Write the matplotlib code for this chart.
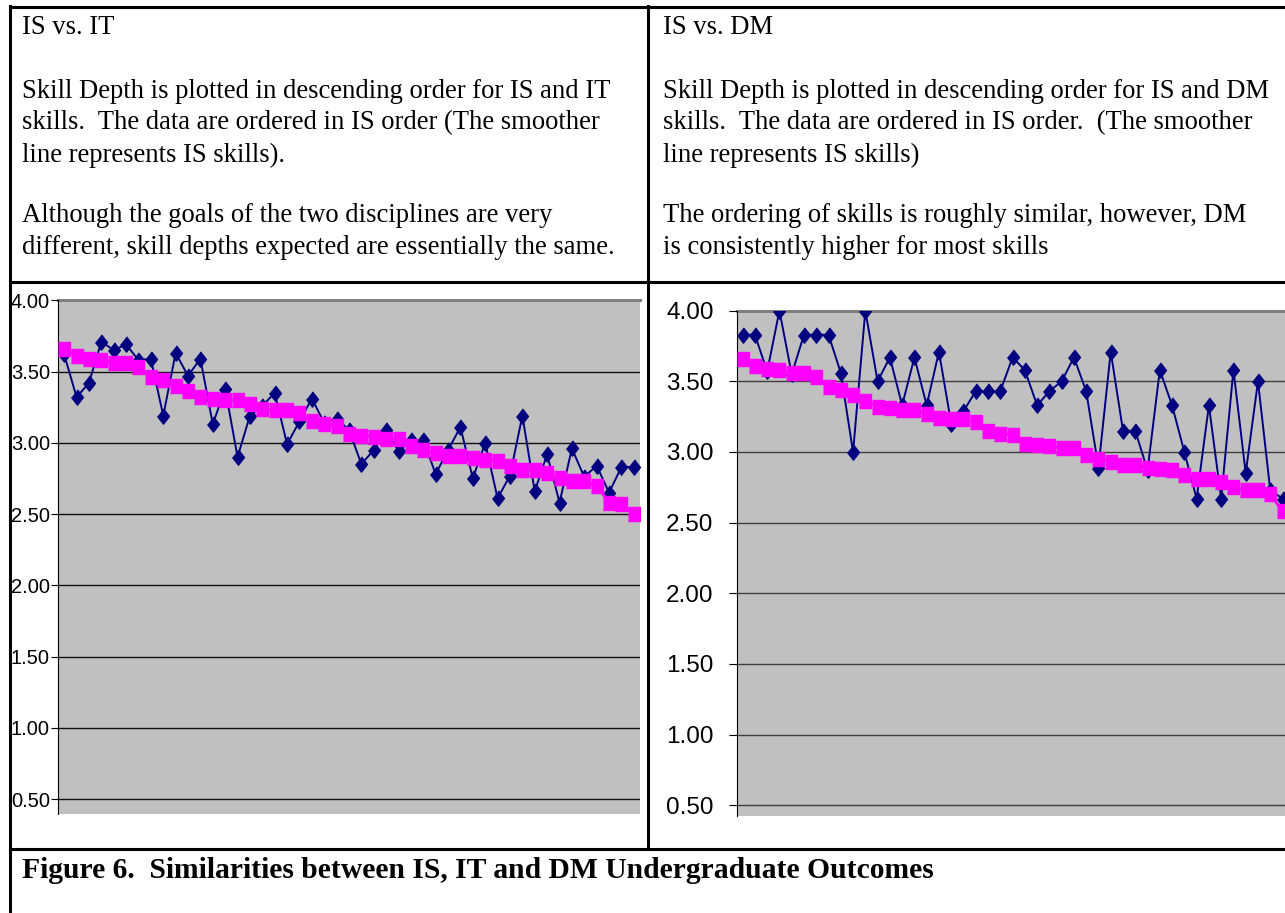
import matplotlib.pyplot as plt
import numpy as np
from matplotlib.lines import Line2D

# Skill depth, ordered by IS skill depth (47 skills)
is_depth = [3.66, 3.61, 3.59, 3.58, 3.56, 3.56, 3.53, 3.46, 3.44, 3.40,
            3.36, 3.32, 3.31, 3.30, 3.30, 3.27, 3.24, 3.23, 3.23, 3.21,
            3.15, 3.13, 3.12, 3.06, 3.05, 3.04, 3.03, 3.03, 2.98, 2.95,
            2.93, 2.91, 2.91, 2.89, 2.88, 2.87, 2.84, 2.81, 2.81, 2.79,
            2.75, 2.73, 2.73, 2.70, 2.58, 2.57, 2.50]

it_depth = [3.62, 3.32, 3.42, 3.71, 3.65, 3.69, 3.58, 3.59, 3.19, 3.63,
            3.47, 3.59, 3.13, 3.38, 2.90, 3.19, 3.26, 3.35, 2.99, 3.15,
            3.31, 3.14, 3.17, 3.09, 2.85, 2.95, 3.09, 2.94, 3.02, 3.02,
            2.78, 2.95, 3.11, 2.75, 3.00, 2.61, 2.77, 3.19, 2.66, 2.92,
            2.58, 2.96, 2.76, 2.84, 2.65, 2.83, 2.83]

# DM values: only the first 45 are visible (chart is cut off at the right)
dm_depth = [3.83, 3.83, 3.57, 4.00, 3.55, 3.83, 3.83, 3.83, 3.56, 3.00,
            4.00, 3.50, 3.67, 3.33, 3.67, 3.33, 3.71, 3.20, 3.29, 3.43,
            3.43, 3.43, 3.67, 3.58, 3.33, 3.43, 3.50, 3.67, 3.43, 2.89,
            3.71, 3.15, 3.15, 2.87, 3.58, 3.33, 3.00, 2.67, 3.33, 2.67,
            3.58, 2.85, 3.50, 2.73, 2.67]

yticks = [0.5, 1.0, 1.5, 2.0, 2.5, 3.0, 3.5, 4.0]

W, H = 1285, 913
fig = plt.figure(figsize=(W / 100, H / 100), dpi=100)
fig.patch.set_facecolor('white')

# Excel-like markers, a bit taller than wide
diamond = [(0, 1), (0.78, 0), (0, -1), (-0.78, 0)]
square = [(-0.85, -1), (0.85, -1), (0.85, 1), (-0.85, 1)]


def px_axes(x0, y0, x1, y1):
    return fig.add_axes([x0 / W, 1 - y1 / H, (x1 - x0) / W, (y1 - y0) / H])


def hline(y, x0=10, x1=W):
    fig.add_artist(Line2D([x0 / W, x1 / W], [1 - y / H, 1 - y / H],
                          color='black', lw=2.2, transform=fig.transFigure))


def vline(x, y0, y1):
    fig.add_artist(Line2D([x / W, x / W], [1 - y0 / H, 1 - y1 / H],
                          color='black', lw=2.2, transform=fig.transFigure))


def skill_chart(ax, other, ymin, gridcol, labsize, ticklen, pad):
    n = len(is_depth)
    ax.set_facecolor('#C0C0C0')
    ax.set_xlim(-0.5, n - 0.5)
    ax.set_ylim(ymin, 4.0)
    for v in yticks:
        ax.axhline(v, color=gridcol, lw=1.0, zorder=1)
    ax.axhline(4.0, color='#808080', lw=2.2, zorder=1, clip_on=False)
    ax.plot(range(len(other)), other, color='#000080', lw=1.4,
            marker=diamond, ms=11, zorder=3)
    ax.plot(range(n), is_depth, color='#FF00FF', lw=2.0,
            marker=square, ms=10.5, zorder=4)
    ax.set_xticks([])
    ax.set_yticks(yticks)
    ax.set_yticklabels(['%.2f' % v for v in yticks], family='Liberation Sans',
                       fontsize=labsize)
    ax.tick_params(axis='y', direction='out', length=ticklen, width=0.8,
                   pad=pad, colors='black')
    for s in ['top', 'right', 'bottom']:
        ax.spines[s].set_visible(False)
    ax.spines['left'].set_color('black')
    ax.spines['left'].set_linewidth(0.8)


ax1 = px_axes(58, 300.3, 640, 814)
skill_chart(ax1, it_depth, 0.395, '#101010', 14.5, 4.8, 1)

ax2 = px_axes(736.5, 310.7, 736.5 + 47 * 12.27, 815.7)
skill_chart(ax2, dm_depth, 0.426, '#404040', 17.5, 5.5, 11)

# table frame
hline(7.5)
hline(282)
hline(848.5)
vline(10, 6.5, H)
vline(647.5, 6.5, 848.5)

serif = 'Liberation Serif'
tsize = 19.2
left_txt = [(28, 'IS vs. IT'),
            (92, 'Skill Depth is plotted in descending order for IS and IT'),
            (123, 'skills.  The data are ordered in IS order (The smoother'),
            (155, 'line represents IS skills).'),
            (216, 'Although the goals of the two disciplines are very'),
            (247, 'different, skill depths expected are essentially the same.')]
right_txt = [(28, 'IS vs. DM'),
             (92, 'Skill Depth is plotted in descending order for IS and DM'),
             (123, 'skills.  The data are ordered in IS order.  (The smoother'),
             (155, 'line represents IS skills)'),
             (216, 'The ordering of skills is roughly similar, however, DM'),
             (247, 'is consistently higher for most skills')]
for y, s in left_txt:
    fig.text(22 / W, 1 - y / H, s, family=serif, fontsize=tsize, va='center')
for y, s in right_txt:
    fig.text(663 / W, 1 - y / H, s, family=serif, fontsize=tsize, va='center')

fig.text(22 / W, 1 - 870 / H,
         'Figure 6.  Similarities between IS, IT and DM Undergraduate Outcomes',
         family=serif, fontsize=21.3, fontweight='bold', va='center')

fig.savefig('out.png', dpi=100)
